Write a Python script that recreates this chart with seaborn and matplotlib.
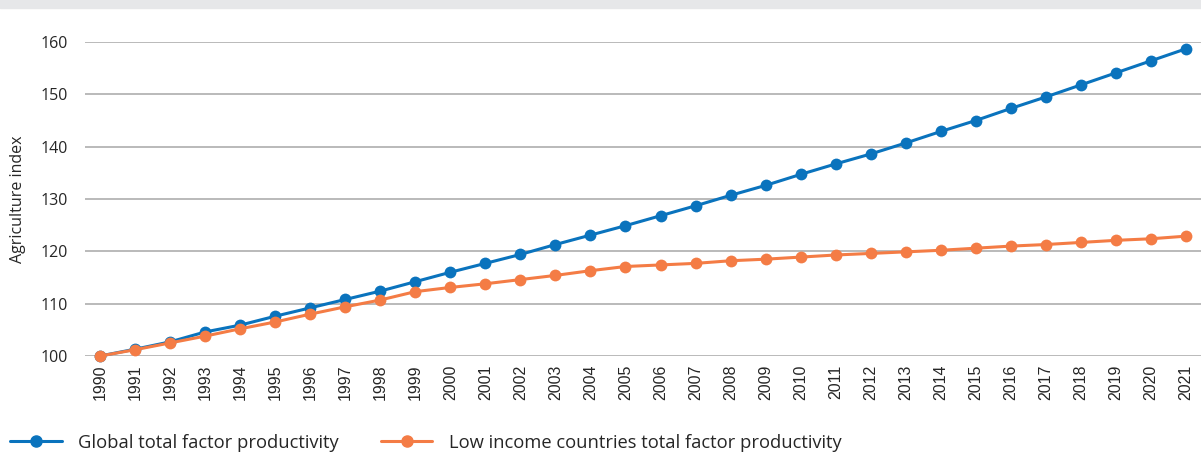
import pandas as pd
import numpy as np
import matplotlib.pyplot as plt
import seaborn as sns

years = list(range(1990, 2022))
global_tfp = [100.0, 101.3, 102.7, 104.6, 105.9, 107.6, 109.2, 110.8, 112.4, 114.2,
              116.0, 117.7, 119.4, 121.3, 123.1, 124.9, 126.8, 128.7, 130.7, 132.6,
              134.7, 136.7, 138.6, 140.7, 142.9, 145.0, 147.3, 149.5, 151.8, 154.1,
              156.4, 158.7]
low_income_tfp = [100.0, 101.2, 102.5, 103.8, 105.2, 106.5, 108.0, 109.4, 110.7, 112.3,
                  113.1, 113.8, 114.6, 115.4, 116.3, 117.1, 117.4, 117.7, 118.2, 118.5,
                  118.9, 119.3, 119.6, 119.9, 120.2, 120.6, 121.0, 121.3, 121.7, 122.1,
                  122.4, 122.9]
series_names = ["Global total factor productivity",
                "Low income countries total factor productivity"]
colors = ["#0a73bd", "#f47c45"]

df = pd.DataFrame({"year": years * 2,
                   "value": global_tfp + low_income_tfp,
                   "series": [series_names[0]] * len(years) + [series_names[1]] * len(years)})

sns.set_style("white")
plt.rcParams['font.family'] = ['Open Sans', 'DejaVu Sans']

fig = plt.figure(figsize=(12.01, 4.54), dpi=100)
# grey band at top
fig.patches.append(plt.Rectangle((0, 0.982), 1, 0.018, transform=fig.transFigure,
                                 color="#e6e7e9", zorder=0))
ax = fig.add_axes([85 / 1201, 98 / 454, 1116 / 1201, 314 / 454])

sns.lineplot(data=df, x="year", y="value", hue="series", palette=colors,
             marker="o", markersize=8.5, markeredgewidth=0, linewidth=2.2,
             ax=ax, legend=False, clip_on=False)

ax.set_xlim(1989.57, 2021.43)
ax.set_ylim(100, 160)
ax.set_yticks(range(100, 161, 10))
ax.set_xticks(years)
ax.set_xticklabels([str(y) for y in years], rotation=90, family="Liberation Sans", fontsize=11.5)
ax.tick_params(axis="y", labelsize=11.5, length=0, pad=12)
ax.tick_params(axis="x", length=0, pad=6)
ax.yaxis.grid(True, color="#b4b4b4", linewidth=1.3)
for s in ax.spines.values():
    s.set_visible(False)
ax.set_xlabel("")
ax.set_ylabel("Agriculture index", fontsize=11.5)
ax.yaxis.set_label_coords(-0.053, 0.5)

handles = [plt.Line2D([], [], color=c, marker="o", markersize=8, linewidth=2.2) for c in colors]
fig.legend(handles, series_names, loc="center left", bbox_to_anchor=(0.004, 0.025), ncol=2,
           frameon=False, fontsize=13.2, handlelength=2.8, handletextpad=0.9,
           columnspacing=2.3, borderaxespad=0, borderpad=0.3)

fig.savefig("out.png", dpi=100)
